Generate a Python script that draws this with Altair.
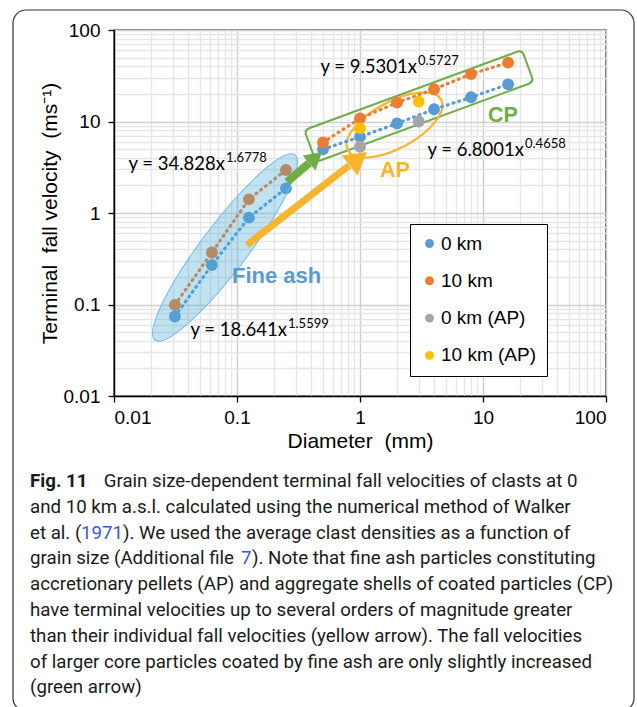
import altair as alt
import pandas as pd

# ---------------- data ----------------
series_names = ["0 km", "10 km", "0 km (AP)", "10 km (AP)"]
series_colors = ["#5B9BD5", "#ED7D31", "#A5A5A5", "#FFC000"]

fine_diam = [0.03125, 0.0625, 0.125, 0.25]
fine_v0 = [0.074, 0.27, 0.89, 1.86]
fine_v10 = [0.099, 0.37, 1.41, 2.95]

cp_diam = [0.5, 1, 2, 4, 8, 16]
cp_v0 = [4.97, 6.8, 9.5, 13.6, 18.4, 25.5]
cp_v10 = [5.9, 10.8, 16.1, 22.5, 33.0, 44.0]

ap_diam = [1, 3]
ap_v0 = [5.3, 10.0]
ap_v10 = [8.4, 16.5]

decades = [0.01, 0.1, 1, 10, 100]
minor_mult = [1, 2, 3, 4, 5, 6, 7, 8, 9]

# trend-line equations (text + anchor in data units)
eq_base = ["y = 34.828x", "y = 18.641x", "y = 9.5301x", "y = 6.8001x"]
eq_exp = ["1.6778", "1.5599", "0.5727", "0.4658"]
eq_d = [0.0799, 0.2549, 2.904, 21.54]
eq_v = [2.951, 0.0453, 33.88, 4.198]

# region labels
lab_text = ["Fine ash", "AP", "CP"]
lab_color = ["#5B9BD5", "#F6B42F", "#70AD47"]
lab_size = [22, 21.5, 21.5]
lab_d = [0.0911, 1.454, 10.98]
lab_v = [0.1718, 2.472, 9.87]

# region outlines (centres in data units)
fine_ell_d, fine_ell_v = [0.0799], [0.4198]
ap_ell_d, ap_ell_v = [1.908], [9.16]
cp_box_d, cp_box_v = [3.018], [14.77]

# arrows: start, head base, tip (data units)
green_arrow = {"d": [0.2549], "v": [2.182], "d2": [0.3857], "v2": [3.511], "dt": [0.4910], "vt": [4.642]}
yellow_arrow = {"d": [0.1206], "v": [0.447], "d2": [0.8155], "v2": [3.304], "dt": [1.140], "vt": [4.642]}

BLK = "#1a1a1a"
LINK = "#3A57D6"
caption_lines = [
    [("Fig. 11", 30, "bold", BLK),
     ("Grain size-dependent terminal fall velocities of clasts at 0", 103.7, "normal", BLK)],
    [("and 10 km a.s.l. calculated using the numerical method of Walker", 30, "normal", BLK)],
    [("et al. (", 30, "normal", BLK), ("1971", 81, "normal", LINK),
     ("). We used the average clast densities as a function of", 123, "normal", BLK)],
    [("grain size (Additional file ", 30, "normal", BLK), ("7", 241, "normal", LINK),
     ("). Note that fine ash particles constituting", 252, "normal", BLK)],
    [("accretionary pellets (AP) and aggregate shells of coated particles (CP)", 30, "normal", BLK)],
    [("have terminal velocities up to several orders of magnitude greater", 30, "normal", BLK)],
    [("than their individual fall velocities (yellow arrow). The fall velocities", 30, "normal", BLK)],
    [("of larger core particles coated by fine ash are only slightly increased", 30, "normal", BLK)],
    [("(green arrow)", 30, "normal", BLK)],
]

# ---------------- build tables ----------------
rows = []


def add(diams, vals, series, group):
    for d, v in zip(diams, vals):
        rows.append({"d": d, "v": v, "series": series, "group": group})


add(fine_diam, fine_v0, "0 km", "fine0")
add(fine_diam, fine_v10, "10 km", "fine10")
add(cp_diam, cp_v0, "0 km", "cp0")
add(cp_diam, cp_v10, "10 km", "cp10")
add(ap_diam, ap_v0, "0 km (AP)", "ap0")
add(ap_diam, ap_v10, "10 km (AP)", "ap10")
df = pd.DataFrame(rows)
df_lines = df[df["group"].isin(["fine0", "fine10", "cp0", "cp10"])].rename(columns={"series": "line_series"})

grid_vals = [round(m * d, 6) for d in decades[:-1] for m in minor_mult] + [decades[-1]]

LEFT, TOP, W, H = 114, 30, 492, 366
FONT = "Liberation Sans"
CAP_FONT = "Roboto"

xs = alt.Scale(type="log", domain=[0.01, 100], nice=False)
ys = alt.Scale(type="log", domain=[0.01, 100], nice=False)

major = "abs(log(datum.value)/LN10 - round(log(datum.value)/LN10)) < 0.001"
common_axis = dict(
    values=grid_vals,
    format="~g",
    labelExpr=f"({major}) ? datum.label : ''",
    labelOverlap=False,
    labelBound=False,
    labelFont=FONT,
    labelFontSize=19,
    labelColor="#000000",
    titleFont=FONT,
    titleFontSize=21,
    titleFontWeight="normal",
    titleColor="#000000",
    gridColor={"condition": {"test": major, "value": "#CFCFCF"}, "value": "#E6E6E6"},
    gridWidth={"condition": {"test": major, "value": 1.5}, "value": 1.4},
    tickOpacity={"condition": {"test": major, "value": 1}, "value": 0},
    tickColor="#000000",
    tickSize=6,
    tickWidth=1.3,
    domainColor="#000000",
    domainWidth=1.4,
)
x_axis = alt.Axis(title="Diameter\u00a0 (mm)", labelPadding=6, titlePadding=3, **common_axis)
y_axis = alt.Axis(title="Terminal\u00a0 fall velocity\u00a0 (ms\u207b\u00b9)", labelPadding=8,
                  titlePadding=3, **common_axis)


def X(field="d"):
    return alt.X(f"{field}:Q", scale=xs, axis=x_axis)


def Y(field="v"):
    return alt.Y(f"{field}:Q", scale=ys, axis=y_axis)


color_scale = alt.Scale(domain=series_names, range=series_colors)

# region outlines
cp_box = alt.Chart(pd.DataFrame({"d": cp_box_d, "v": cp_box_v})).mark_point(
    shape="M-0.955,-0.147 L0.955,-0.147 Q1,-0.147 1,-0.102 L1,0.102 Q1,0.147 0.955,0.147 "
          "L-0.955,0.147 Q-1,0.147 -1,0.102 L-1,-0.102 Q-1,-0.147 -0.955,-0.147 Z",
    size=232 ** 2, angle=339.8, filled=False, stroke="#70AD47", strokeWidth=2, opacity=1
).encode(x=X(), y=Y())

ap_ell = alt.Chart(pd.DataFrame({"d": ap_ell_d, "v": ap_ell_v})).mark_point(
    shape="M-1,0 A1,0.44 0 1,1 1,0 A1,0.44 0 1,1 -1,0 Z",
    size=106 ** 2, angle=331.6, filled=False, stroke="#F6B42F", strokeWidth=2.2, opacity=1
).encode(x=X(), y=Y())

lines = alt.Chart(df_lines).mark_line(
    strokeWidth=3.2, strokeDash=[1, 5], strokeCap="round"
).encode(x=X(), y=Y(),
         color=alt.Color("line_series:N", scale=alt.Scale(domain=series_names, range=series_colors),
                         legend=None),
         detail="group:N", order="d:Q")

points = alt.Chart(df).mark_circle(size=140, opacity=1).encode(
    x=X(), y=Y(),
    color=alt.Color("series:N", scale=color_scale, sort=series_names,
                    legend=alt.Legend(title=None, orient="none", legendX=296, legendY=194,
                                      fillColor="white", strokeColor="#000000", padding=10,
                                      labelFont=FONT, labelFontSize=19, labelColor="#000000",
                                      symbolType="circle", symbolSize=80, symbolStrokeWidth=0,
                                      rowPadding=17.3, labelOffset=2)),
)

fine_ell = alt.Chart(pd.DataFrame({"d": fine_ell_d, "v": fine_ell_v})).mark_point(
    shape="M-1,0 A1,0.2 0 1,1 1,0 A1,0.2 0 1,1 -1,0 Z",
    size=232 ** 2, angle=307.1, filled=True, fill="#42AAD6", fillOpacity=0.33,
    stroke="#6FBCE2", strokeWidth=1, opacity=1
).encode(x=X(), y=Y())


def arrow(spec, color, width, head_len, angle):
    src = pd.DataFrame(spec)
    shaft = alt.Chart(src).mark_rule(strokeWidth=width, color=color, strokeCap="butt").encode(
        x=X(), y=Y(), x2="d2:Q", y2="v2:Q")
    head = alt.Chart(src).mark_point(
        shape="M0,0 L-1,-0.58 L-1,0.58 Z", size=(2 * head_len) ** 2, angle=angle,
        filled=True, fill=color, strokeWidth=0, opacity=1
    ).encode(x=X("dt"), y=Y("vt"))
    return [shaft, head]


eq_df = pd.DataFrame({"base": eq_base, "exp": eq_exp, "d": eq_d, "v": eq_v})
eq_base_txt = alt.Chart(eq_df).mark_text(
    align="right", baseline="alphabetic", font="Lato", fontSize=18.5, color="#000000"
).encode(x=X(), y=Y(), text="base:N")
eq_exp_txt = alt.Chart(eq_df).mark_text(
    align="left", baseline="alphabetic", font="Lato", fontSize=13, color="#000000", dx=1, dy=-8
).encode(x=X(), y=Y(), text="exp:N")

lab_layers = []
for t, c, s, d, v in zip(lab_text, lab_color, lab_size, lab_d, lab_v):
    lab_layers.append(alt.Chart(pd.DataFrame({"t": [t], "d": [d], "v": [v]})).mark_text(
        align="left", baseline="alphabetic", font=FONT, fontWeight="bold", fontSize=s, color=c
    ).encode(x=X(), y=Y(), text="t:N"))

# caption + frame (outside the plot area)
cap_layers = []
for i, segs in enumerate(caption_lines):
    for text, xpx, weight, col in segs:
        cap_layers.append(alt.Chart(pd.DataFrame({"t": [text]})).mark_text(
            align="left", baseline="middle", font=CAP_FONT, fontSize=18.7, fontWeight=weight,
            color=col
        ).encode(x=alt.value(xpx - LEFT), y=alt.value(481 - TOP + 25.8 * i), text="t:N"))

frame = alt.Chart(pd.DataFrame({"a": [0]})).mark_rect(
    fill="transparent", stroke="#333333", strokeWidth=1.2, cornerRadius=13
).encode(x=alt.value(13 - LEFT), x2=alt.value(634 - LEFT), y=alt.value(10 - TOP),
         y2=alt.value(711 - TOP))

layers = [cp_box, ap_ell, lines, points, fine_ell]
layers += arrow(green_arrow, "#70AD47", 8, 17, 319.4)
layers += arrow(yellow_arrow, "#F6B42F", 7, 22, 322.2)
layers += [eq_base_txt, eq_exp_txt] + lab_layers + cap_layers + [frame]

chart = alt.layer(*layers).resolve_scale(color="independent").properties(
    width=W, height=H,
    autosize=alt.AutoSizeParams(type="none"),
    padding={"left": LEFT, "top": TOP, "right": 637 - LEFT - W, "bottom": 707 - TOP - H},
    background="white",
).configure_view(stroke="#000000", strokeWidth=1.4)

chart.save("out.html", embed_options={"renderer": "svg", "actions": False})
